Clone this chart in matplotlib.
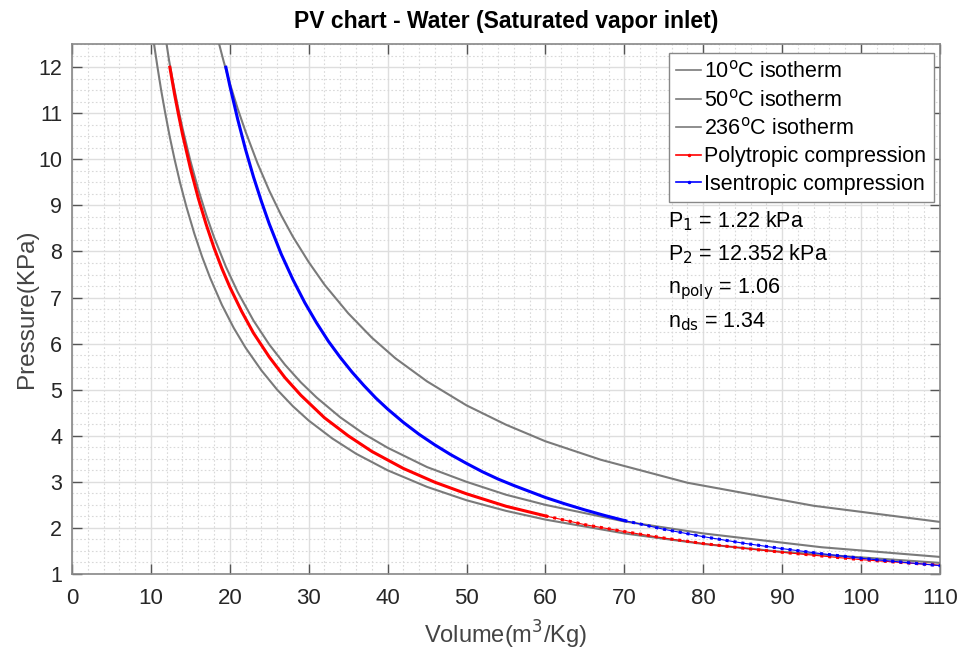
import matplotlib.pyplot as plt
from matplotlib.lines import Line2D
from matplotlib.ticker import MultipleLocator

plt.rcParams["font.family"] = ["Liberation Sans", "DejaVu Sans"]

# values (volume m3/kg, pressure kPa)
v_10c = [10.4, 10.8, 11.3, 11.8, 12.4, 13, 13.7, 14.5, 15.5, 16.5, 17.5, 19, 20.5, 22,
         24, 26, 28, 30, 33, 36, 40, 45, 50, 55, 60, 70, 80, 90, 100, 110]
p_10c = [12.5, 12.04, 11.5, 11.02, 10.48, 10.0, 9.49, 8.97, 8.39, 7.88, 7.43, 6.84,
         6.34, 5.91, 5.42, 5.0, 4.64, 4.33, 3.94, 3.61, 3.25, 2.89, 2.6, 2.37, 2.18,
         1.88, 1.65, 1.48, 1.36, 1.24]

v_50c = [11.9, 12.3, 12.8, 13.4, 14, 15, 16, 17, 18, 19.5, 21, 23, 25, 27, 29, 31, 34,
         37, 40, 45, 50, 55, 60, 70, 80, 95, 110]
p_50c = [12.6, 12.15, 11.68, 11.16, 10.68, 9.97, 9.35, 8.8, 8.31, 7.67, 7.12, 6.5, 5.98,
         5.54, 5.16, 4.83, 4.4, 4.04, 3.74, 3.32, 3.0, 2.72, 2.5, 2.14, 1.88, 1.58, 1.37]

v_236c = [18.5, 19.2, 20, 21, 22, 23.5, 25, 26.5, 28, 30, 32, 35, 38, 41, 45, 50, 55,
          60, 67, 78, 94, 110]
p_236c = [12.6, 12.14, 11.65, 11.1, 10.6, 9.92, 9.32, 8.79, 8.32, 7.77, 7.28, 6.66,
          6.13, 5.68, 5.18, 4.66, 4.24, 3.88, 3.48, 2.98, 2.48, 2.13]

v_poly = [12.4, 13, 13.5, 14, 15, 16, 17, 18, 19, 20, 21.5, 23, 25, 27, 29, 32, 35, 38,
          42, 46, 50, 55, 60, 65, 70, 75, 80, 85, 90, 95, 100, 105, 110]
p_poly = [12.0, 11.41, 10.97, 10.55, 9.81, 9.16, 8.59, 8.08, 7.63, 7.23, 6.7, 6.23,
          5.71, 5.26, 4.88, 4.39, 4.0, 3.66, 3.29, 2.99, 2.74, 2.47, 2.26, 2.07, 1.92,
          1.78, 1.66, 1.56, 1.47, 1.39, 1.31, 1.25, 1.19]

v_isen = [19.5, 20, 21, 22, 23, 24, 25, 26.5, 28, 29.5, 31, 32.5, 34, 35.5, 37, 38.5,
          40, 42, 44, 46, 48, 50, 52, 54, 56, 58, 60, 62.5, 65, 67.5, 70, 75, 80, 85,
          90, 95, 100, 105, 110]
p_isen = [12.0, 11.6, 10.87, 10.21, 9.62, 9.09, 8.6, 7.95, 7.39, 6.89, 6.45, 6.05, 5.7,
          5.38, 5.09, 4.82, 4.58, 4.29, 4.03, 3.8, 3.59, 3.4, 3.22, 3.06, 2.92, 2.79,
          2.66, 2.52, 2.39, 2.27, 2.16, 1.97, 1.81, 1.67, 1.55, 1.44, 1.34, 1.26, 1.18]

iso_labels = ["10$^{\\mathrm{o}}$C isotherm", "50$^{\\mathrm{o}}$C isotherm",
              "236$^{\\mathrm{o}}$C isotherm"]
notes = ["P$_1$ = 1.22 kPa", "P$_2$ = 12.352 kPa", "n$_{\\mathrm{poly}}$ = 1.06",
         "n$_{\\mathrm{ds}}$ = 1.34"]
note_y = [0.655, 0.592, 0.530, 0.466]

GRAY = "#7a7a7a"
TXT = "#262626"


def split_tail(v, p, v_cut):
    head = [(a, b) for a, b in zip(v, p) if a <= v_cut]
    tail = [(a, b) for a, b in zip(v, p) if a >= head[-1][0]]
    return list(zip(*head)), list(zip(*tail))


fig = plt.figure(figsize=(9.64, 6.5), dpi=100)
ax = fig.add_axes([0.0747, 0.117, 0.9003, 0.815])

for v, p in [(v_10c, p_10c), (v_50c, p_50c), (v_236c, p_236c)]:
    ax.plot(v, p, color=GRAY, lw=1.5, zorder=3)

for v, p, c, cut in [(v_poly, p_poly, "#ff0000", 62), (v_isen, p_isen, "#0000ff", 72)]:
    (hv, hp), (tv, tp) = split_tail(v, p, cut)
    ax.plot(hv, hp, color=c, lw=2.2, zorder=4)
    ax.plot(tv, tp, color=c, lw=0.8, zorder=4)
    ax.plot(tv, tp, color=c, lw=2.2, ls=(0, (1, 1.6)), zorder=4)

ax.set_xlim(0, 110)
ax.set_ylim(1, 12.5)
ax.xaxis.set_major_locator(MultipleLocator(10))
ax.xaxis.set_minor_locator(MultipleLocator(2))
ax.yaxis.set_major_locator(MultipleLocator(1))
ax.yaxis.set_minor_locator(MultipleLocator(0.25))
ax.grid(True, which="major", color="#dedede", lw=1.0)
ax.grid(True, which="minor", color="#d9d9d9", lw=0.8, ls=(0, (1.5, 2)))
ax.set_axisbelow(True)

ax.tick_params(which="major", direction="in", length=7, width=1, top=True, right=True,
               colors="#555555", labelcolor=TXT)
ax.tick_params(axis="x", labelsize=16, pad=10)
ax.tick_params(axis="y", labelsize=15.5, pad=7)
ax.tick_params(which="minor", length=0, top=True, right=True)
for s in ax.spines.values():
    s.set_color("#888888")
    s.set_linewidth(1.2)

ax.set_xlabel("Volume(m$^3$/Kg)", fontsize=17, color="#444444", labelpad=7)
ax.set_ylabel("Pressure(KPa)", fontsize=17.5, color="#444444", labelpad=0)
ax.set_title("PV chart - Water (Saturated vapor inlet)", fontsize=16.5, fontweight="bold",
             color="black", pad=12)

handles = [Line2D([], [], color=GRAY, lw=1.2) for _ in iso_labels]
handles += [Line2D([], [], color="#ff0000", lw=1.2, marker=".", markersize=3),
            Line2D([], [], color="#0000ff", lw=1.2, marker=".", markersize=3)]
leg = ax.legend(handles, iso_labels + ["Polytropic compression", "Isentropic compression"],
                loc="upper right", bbox_to_anchor=(0.993, 0.983), fontsize=15.5,
                handlelength=1.15, handletextpad=0.15, labelspacing=0.3,
                borderpad=0.35, borderaxespad=0, fancybox=False, framealpha=1,
                edgecolor="#888888")
leg.get_frame().set_linewidth(1.0)

for t, y in zip(notes, note_y):
    ax.text(0.687, y, t, transform=ax.transAxes, fontsize=15.5, color="black",
            va="baseline")

fig.savefig("out.png", dpi=100)
